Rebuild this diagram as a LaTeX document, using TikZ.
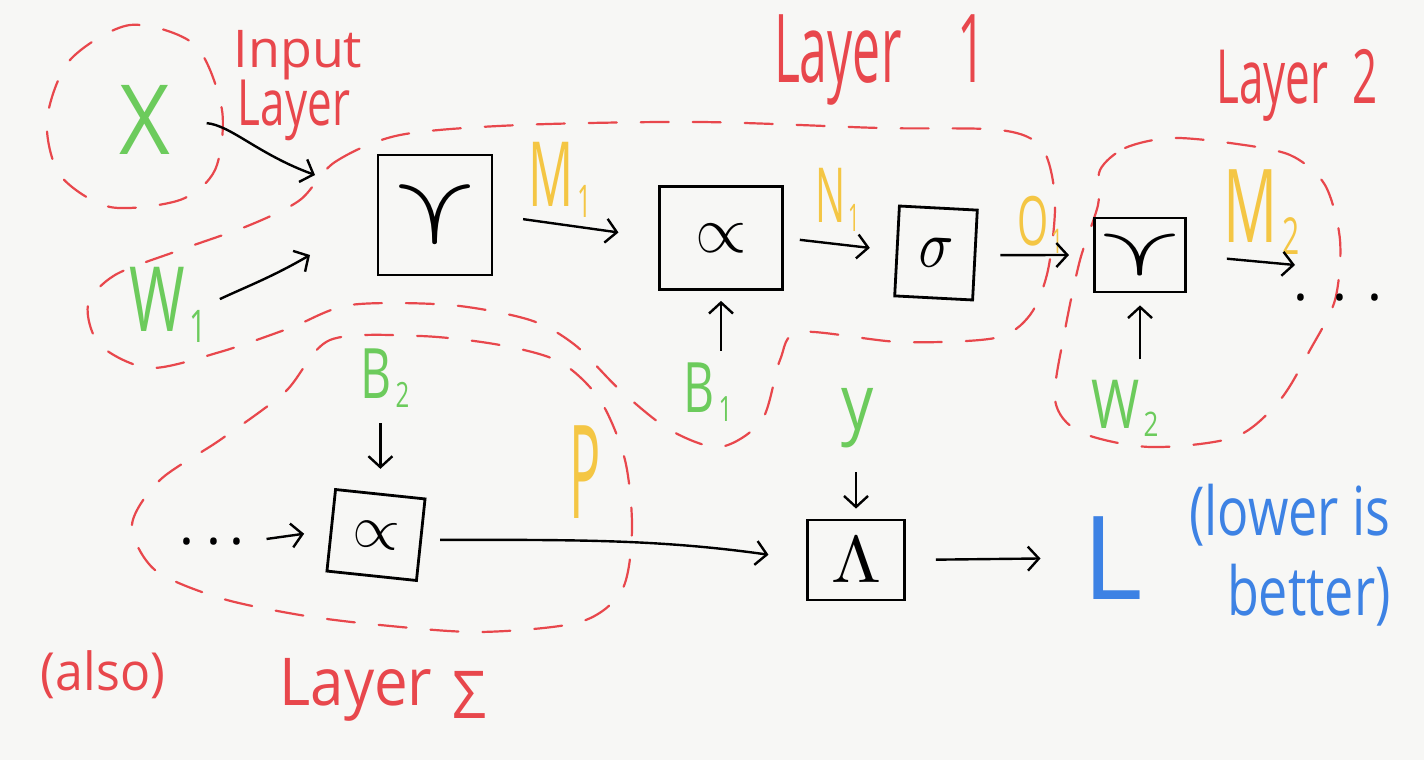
\documentclass[tikz,border=0pt]{standalone}
\usepackage{fontspec}
\setmainfont{Open Sans}
\usepackage{amssymb}
\usepackage{graphicx}
\usetikzlibrary{arrows.meta}
\definecolor{hred}{HTML}{E8474C}
\definecolor{hgreen}{HTML}{6CCB5C}
\definecolor{hyellow}{HTML}{F4C644}
\definecolor{hblue}{HTML}{3D82E4}
\definecolor{paper}{HTML}{F7F7F5}
\newcommand{\hwtext}[3]{{\fontsize{#1}{#1}\selectfont\scalebox{1}[#2]{#3}}}
\newcommand{\hwsub}[2]{#1\kern0.08em\raisebox{-0.12em}{\scalebox{0.5}{#2}}}
\tikzset{
  box/.style={draw=black, line width=1.4pt, inner sep=0pt},
  lab/.style={inner sep=0pt},
  arr/.style={-{Straight Barb[length=5.5pt,width=12pt]}, line width=1.2pt, black},
  zone/.style={hred, line width=1.1pt, dash pattern=on 14pt off 12pt, line cap=round},
}
\begin{document}
\begin{tikzpicture}[x=0.5pt,y=-0.5pt]
\fill[paper] (0,0) rectangle (1424,760);
\useasboundingbox (0,0) rectangle (1424,760);

% zones
\draw[zone] plot[smooth cycle] coordinates {(47,120) (70,60) (130,25) (195,45) (222,110) (215,170) (180,200) (110,207) (60,175)};
\draw[zone] plot[smooth cycle] coordinates {(300,200) (335,162) (400,135) (520,125) (700,122) (880,128) (1000,130) (1042,148) (1055,200) (1048,270) (1030,315) (995,338) (900,342) (800,332) (780,360) (762,420) (720,447) (670,430) (620,390) (575,345) (530,320) (450,305) (350,305) (290,328) (220,352) (150,368) (100,345) (88,305) (115,275) (180,250) (250,225)};
\draw[zone] plot[smooth cycle] coordinates {(1100,170) (1125,148) (1170,138) (1230,143) (1290,155) (1325,185) (1340,240) (1335,300) (1310,350) (1280,400) (1235,437) (1150,447) (1080,432) (1055,400) (1065,330) (1080,260) (1098,205)};
\draw[zone] plot[smooth cycle] coordinates {(330,340) (420,336) (500,345) (560,362) (600,400) (625,460) (632,530) (622,590) (580,622) (480,632) (380,625) (300,615) (220,598) (155,570) (132,525) (160,480) (220,440) (285,392)};

% boxes
\node[box, minimum width=57pt, minimum height=60pt] (mm1) at (435,215) {\scalebox{6}[5]{$\curlyvee$}};
\node[box, minimum width=61.5pt, minimum height=51.5pt] (add1) at (721,238) {\scalebox{3.3}{$\propto$}};
\node[box, minimum width=39pt, minimum height=45pt, rotate=-3] (sig1) at (936,253) {\scalebox{2.8}[3.4]{$\sigma$}};
\node[box, minimum width=42pt, minimum height=37pt] (mm2) at (1140,255) {\scalebox{6}[3.5]{$\curlyvee$}};
\node[box, minimum width=45pt, minimum height=41pt, rotate=-6] (add2) at (376,535) {\scalebox{3}{$\propto$}};
\node[box, minimum width=48.5pt, minimum height=40pt] (loss) at (856,560) {\scalebox{3.6}[3.3]{$\Lambda$}};

% labels
\node[lab, text=hgreen] (X) at (145,120) {\hwtext{44}{1.1}{X}};
\node[lab, text=hred] (inp) at (298,55) {\hwtext{26}{1}{Input}};
\node[lab, text=hred] (inl) at (294,110) {\hwtext{22}{1.45}{Layer}};
\node[lab, text=hred] (l1) at (880,60) {\hwtext{25}{1.9}{Layer\hspace{28pt}1}};
\node[lab, text=hred] (l2) at (1297,85) {\hwtext{22}{1.7}{Layer\hspace{12pt}2}};
\node[lab, text=hred] (lS) at (383,690) {\hwtext{30}{1.1}{Layer\hspace{10pt}\raisebox{-0.2em}{Σ}}};
\node[lab, text=hred] (also) at (103,675) {\hwtext{25}{1.05}{(also)}};
\node[lab, text=hgreen] (W1) at (168,305) {\hwtext{30}{1.5}{\hwsub{W}{1}}};
\node[lab, text=hyellow] (M1) at (560,180) {\hwtext{25}{1.8}{\hwsub{M}{1}}};
\node[lab, text=hyellow] (N1) at (838,200) {\hwtext{20}{1.9}{\hwsub{N}{1}}};
\node[lab, text=hyellow] (O1) at (1040,225) {\hwtext{20}{1.7}{\hwsub{O}{1}}};
\node[lab, text=hyellow] (M2) at (1262,212) {\hwtext{30}{1.7}{\hwsub{M}{2}}};
\node[lab, text=hgreen] (B1) at (708,392) {\hwtext{24}{1.45}{\hwsub{B}{1}}};
\node[lab, text=hgreen] (B2) at (385,378) {\hwtext{24}{1.45}{\hwsub{B}{2}}};
\node[lab, text=hgreen] (W2) at (1125,408) {\hwtext{26}{1.3}{\hwsub{W}{2}}};
\node[lab, text=hyellow] (P) at (585,472) {\hwtext{26}{2.5}{P}};
\node[lab, text=hgreen] (Y) at (858,418) {\hwtext{32}{1.2}{y}};
\node[lab, text=hblue] (L) at (1113,558) {\hwtext{58}{1}{L}};
\node[lab, text=hblue, align=right, font=\fontsize{26}{40}\selectfont] (lib) at (1290,555) {\hwtext{26}{1.3}{(lower is}\\\hwtext{26}{1.3}{better)}};
\node[lab] (dots1) at (1338,298) {\hwtext{28}{1}{.\hspace{12pt}.\hspace{10pt}.}};
\node[lab] (dots2) at (212,542) {\hwtext{28}{1}{.\hspace{6pt}.\hspace{4pt}.}};

\coordinate (xtip) at (315,175);
\coordinate (wtip) at (310,255);
\coordinate (m2tip) at (1295,265);

% connectors
\draw[arr, shorten <=18pt] (X.east) to[out=-5,in=160] (xtip);
\draw[arr, shorten <=7pt] (W1.east) to[out=25,in=-150] (wtip);
\draw[arr, shorten <=15pt, shorten >=20pt] (mm1.east) -- (add1.west);
\draw[arr, shorten <=8pt, shorten >=13pt] (add1.east) -- (sig1.west);
\draw[arr, shorten <=12pt, shorten >=12pt] (sig1.east) -- (mm2.west);
\draw[arr, shorten <=20pt] (mm2.east) -- (m2tip);
\draw[arr, shorten <=6pt, shorten >=5pt] (B1.north -| add1.south) -- (add1.south);
\draw[arr, shorten <=10pt, shorten >=6pt] (W2.north -| mm2.south) -- (mm2.south);
\draw[arr, shorten <=8pt, shorten >=12pt] (B2.south -| add2.north) -- (add2.north);
\draw[arr, shorten <=12pt, shorten >=5pt] (Y.south -| loss.north) -- (loss.north);
\draw[arr, shorten <=11pt, shorten >=13pt] (dots2.east) -- (add2.west);
\draw[arr, shorten <=9pt, shorten >=19pt] (add2.east) to[out=0,in=172] (loss.west);
\draw[arr, shorten <=15pt, shorten >=21pt] (loss.east) -- (L.west);
\end{tikzpicture}
\end{document}
